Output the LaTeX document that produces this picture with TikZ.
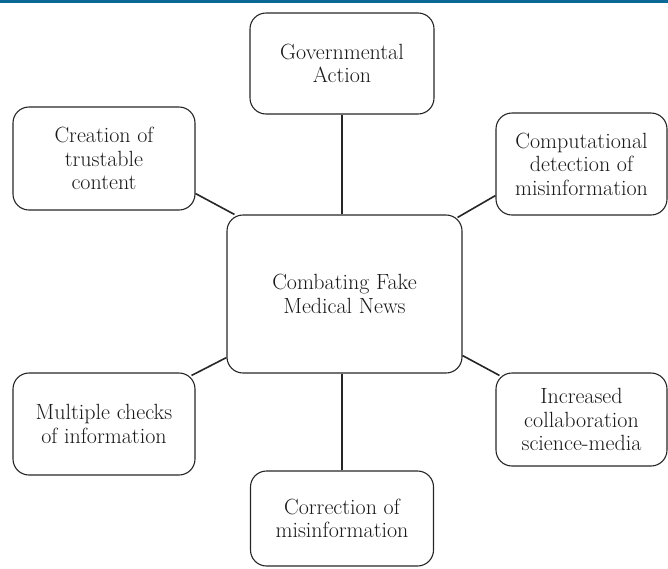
\documentclass[tikz,border=0pt]{standalone}
\definecolor{topblue}{RGB}{12,104,150}
\begin{document}
\begin{tikzpicture}[x=1pt,y=-1pt,line join=round,font=\fontsize{22}{23.5}\selectfont,
	box/.style={draw=black!85,line width=1.1pt,rounded corners=16pt,align=center,inner sep=0pt,text=black!90},
	link/.style={draw=black!85,line width=1.6pt}]
	\useasboundingbox (0,0) rectangle (668,568);
	\fill[topblue] (0,0) rectangle (668,2.5);
	% centre and the six measures round it
	\node[box,minimum width=235pt,minimum height=158pt] (fake) at (344.5,294) {Combating Fake\\Medical News};
	\node[box,minimum width=184pt,minimum height=101pt] (gov) at (342,63.5) {Governmental\\Action};
	\node[box,minimum width=182pt,minimum height=103pt] (trust) at (104,158.5) {Creation of\\trustable\\content};
	\node[box,minimum width=171pt,minimum height=102pt] (detect) at (581.5,164) {Computational\\detection of\\misinformation};
	\node[box,minimum width=182pt,minimum height=102pt] (checks) at (104,424) {Multiple checks\\of information};
	\node[box,minimum width=171pt,minimum height=93pt] (collab) at (581.5,419.5) {Increased\\collaboration\\science-media};
	\node[box,minimum width=183pt,minimum height=95pt] (correct) at (342,518.5) {Correction of\\misinformation};
	\draw[link] (gov.south) -- (gov.south |- fake.north);
	\draw[link] (correct.north) -- (correct.north |- fake.south);
	\draw[link] ([yshift=17pt]trust.south east) -- ([xshift=8pt]fake.north west);
	\draw[link] ([yshift=20pt]detect.south west) -- ([xshift=-5pt,yshift=-3pt]fake.north east);
	\draw[link] ([xshift=-4pt,yshift=-3pt]checks.north east) -- ([yshift=16pt]fake.south west);
	\draw[link] ([yshift=18pt]fake.south east) -- ([xshift=4pt,yshift=-3pt]collab.north west);
\end{tikzpicture}
\end{document}
